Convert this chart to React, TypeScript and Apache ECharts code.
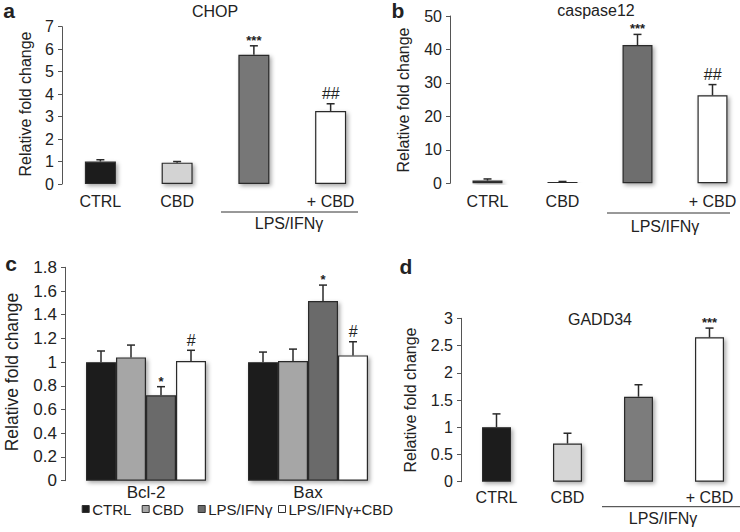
import React, { useEffect, useRef } from "react";
import * as echarts from "echarts";

// ---------- data ----------
const catsABD = ["CTRL", "CBD", "", "+ CBD"];

const chopMean = [1.0, 0.95, 5.75, 3.25];
const chopErr = [0.08, 0.05, 0.4, 0.32];
const chopMarks = ["", "", "***", "##"];
const chopTicks = { min: 0, max: 7, interval: 1 };

const casp12Mean = [0.8, 0.4, 41.3, 26.3];
const casp12Err = [0.5, 0.15, 3.2, 3.2];
const casp12Marks = ["", "", "***", "##"];
const casp12Ticks = { min: 0, max: 50, interval: 10 };

const gadd34Mean = [1.0, 0.7, 1.56, 2.65];
const gadd34Err = [0.245, 0.19, 0.22, 0.17];
const gadd34Marks = ["", "", "", "***"];
const gadd34Ticks = { min: 0, max: 3, interval: 0.5 };

const genesC = ["Bcl-2", "Bax"];
const groupsC = ["CTRL", "CBD", "LPS/IFNγ", "LPS/IFNγ+CBD"];
const cMean = [
  [1.0, 1.0],
  [1.04, 1.01],
  [0.72, 1.515],
  [1.01, 1.057],
];
const cErr = [
  [0.094, 0.085],
  [0.104, 0.1],
  [0.073, 0.135],
  [0.09, 0.115],
];
const cMarks = [
  ["", ""],
  ["", ""],
  ["*", "*"],
  ["#", "#"],
];
const cTicks = { min: 0, max: 1.8, interval: 0.2 };

const yTitle = "Relative fold change";
const groupLabel = "LPS/IFNγ";

const colorsA = ["#1c1c1c", "#d3d3d3", "#777777", "#ffffff"];
const colorsB = ["#1c1c1c", "#8a8a8a", "#6e6e6e", "#ffffff"];
const colorsC = ["#1c1c1c", "#a6a6a6", "#6b6b6b", "#ffffff"];
const colorsD = ["#1c1c1c", "#d6d6d6", "#7b7b7b", "#ffffff"];

const FONT = "Liberation Sans, Arial, sans-serif";
const TXT = "#222";

const barStyle = {
  borderColor: "#2a2a2a",
  borderWidth: 1.2,
  shadowColor: "rgba(0,0,0,0.35)",
  shadowBlur: 4,
  shadowOffsetX: 2,
  shadowOffsetY: 2,
};

function markFont(m: string) {
  if (m.indexOf("*") >= 0) return `bold 13px ${FONT}`;
  return `italic 16px ${FONT}`;
}

function makeErrRender(marks: string[], offsets: number[] | null) {
  return (params: any, api: any) => {
    const x = api.value(0);
    const m = api.value(1);
    const e = api.value(2);
    const s = api.value(3);
    const base = api.coord([x, m]);
    const top = api.coord([x, m + e]);
    const cx = base[0] + (offsets ? offsets[s] : 0);
    const children: any[] = [
      {
        type: "line",
        shape: { x1: cx, y1: base[1], x2: cx, y2: top[1] },
        style: { stroke: "#2a2a2a", lineWidth: 1.5 },
      },
      {
        type: "line",
        shape: { x1: cx - 4, y1: top[1], x2: cx + 4, y2: top[1] },
        style: { stroke: "#2a2a2a", lineWidth: 1.5 },
      },
    ];
    const mk = marks[params.dataIndex];
    if (mk) {
      const star = mk.indexOf("*") >= 0;
      children.push({
        type: "text",
        style: {
          text: mk,
          x: cx,
          y: star ? top[1] + 1 : top[1] - 2,
          align: "center",
          verticalAlign: "bottom",
          font: markFont(mk),
          fill: TXT,
        },
      });
    }
    return { type: "group", children };
  };
}

function yAxisOf(gridIndex: number, t: { min: number; max: number; interval: number }, fs: number) {
  return {
    type: "value",
    gridIndex,
    min: t.min,
    max: t.max,
    interval: t.interval,
    axisLine: { show: true, lineStyle: { color: "#555", width: 1 } },
    axisTick: { show: true, length: 4, lineStyle: { color: "#555" } },
    splitLine: { show: false },
    axisLabel: { fontSize: fs, color: TXT, fontFamily: FONT, margin: 8 },
  };
}

function xAxisOf(gridIndex: number, data: string[], margin: number, fs: number) {
  return {
    type: "category",
    gridIndex,
    data,
    axisLine: { show: false },
    axisTick: { show: false },
    axisLabel: { fontSize: fs, lineHeight: fs, color: TXT, fontFamily: FONT, margin, interval: 0 },
  };
}

function singleBar(idx: number, means: number[], colors: string[], width: number) {
  return {
    type: "bar",
    xAxisIndex: idx,
    yAxisIndex: idx,
    barWidth: width,
    data: means.map((v, i) => ({ value: v, itemStyle: { color: colors[i] } })),
    itemStyle: barStyle,
  };
}

function errSeries(idx: number, means: number[], errs: number[], marks: string[]) {
  return {
    type: "custom",
    xAxisIndex: idx,
    yAxisIndex: idx,
    z: 5,
    renderItem: makeErrRender(marks, null),
    data: means.map((v, i) => [i, v, errs[i], 0]),
  };
}

export default function App() {
  const ref = useRef<HTMLDivElement>(null);
  useEffect(() => {
    if (!ref.current) return;
    const chart = echarts.init(ref.current, null, { renderer: "svg", width: 740, height: 532 });

    const cBarWidth = 30;
    const cOffsets = groupsC.map((_, s) => (s - (groupsC.length - 1) / 2) * cBarWidth);
    const cErrData: number[][] = [];
    const cMarkFlat: string[] = [];
    groupsC.forEach((_, s) => {
      genesC.forEach((__, g) => {
        cErrData.push([g, cMean[s][g], cErr[s][g], s]);
        cMarkFlat.push(cMarks[s][g]);
      });
    });

    const lineStyle = { stroke: "#333", lineWidth: 1 };
    const txt = (text: string, x: number, y: number, font: string, rotation = 0) => ({
      type: "text",
      x,
      y,
      rotation,
      style: { text, x: 0, y: 0, align: "center", verticalAlign: "middle", font, fill: TXT },
    });

    const option: any = {
      animation: false,
      backgroundColor: "#ffffff",
      grid: [
        { left: 62, top: 26.7, width: 307, height: 157.3, containLabel: false, outerBoundsMode: "none" },
        { left: 450, top: 16, width: 300, height: 167.3, containLabel: false, outerBoundsMode: "none" },
        { left: 65, top: 267.3, width: 324, height: 213.4, containLabel: false, outerBoundsMode: "none" },
        { left: 461, top: 318.3, width: 284, height: 163.4, containLabel: false, outerBoundsMode: "none" },
      ],
      xAxis: [
        xAxisOf(0, catsABD, 9, 16),
        xAxisOf(1, catsABD, 10, 16),
        xAxisOf(2, genesC, 3.5, 17),
        xAxisOf(3, catsABD, 8, 16),
      ],
      yAxis: [
        yAxisOf(0, chopTicks, 16),
        yAxisOf(1, casp12Ticks, 16),
        yAxisOf(2, cTicks, 17),
        yAxisOf(3, gadd34Ticks, 16),
      ],
      legend: groupsC.map((name, s) => ({
        data: [name],
        left: [81.7, 141.7, 197.7, 278][s],
        top: 501.5,
        padding: 0,
        icon: "rect",
        itemWidth: 7,
        itemHeight: 7,
        itemGap: 4,
        selectedMode: false,
        textStyle: { fontSize: 15, lineHeight: 15, color: TXT, fontFamily: FONT, padding: [0, 0, 0, -2] },
        itemStyle: { borderColor: "#333", borderWidth: 1, shadowBlur: 0, shadowOffsetX: 0, shadowOffsetY: 0 },
      })),
      series: [
        singleBar(0, chopMean, colorsA, 31),
        errSeries(0, chopMean, chopErr, chopMarks),
        singleBar(1, casp12Mean, colorsB, 30),
        errSeries(1, casp12Mean, casp12Err, casp12Marks),
        ...groupsC.map((name, s) => ({
          type: "bar",
          name,
          xAxisIndex: 2,
          yAxisIndex: 2,
          barWidth: cBarWidth,
          barGap: "0%",
          data: cMean[s],
          itemStyle: { ...barStyle, color: colorsC[s] },
        })),
        {
          type: "custom",
          xAxisIndex: 2,
          yAxisIndex: 2,
          z: 5,
          renderItem: makeErrRender(cMarkFlat, cOffsets),
          data: cErrData,
        },
        singleBar(3, gadd34Mean, colorsD, 29),
        errSeries(3, gadd34Mean, gadd34Err, gadd34Marks),
      ],
      graphic: [
        txt("a", 9, 10.5, `bold 21px ${FONT}`),
        txt("b", 398, 10.5, `bold 21px ${FONT}`),
        txt("c", 11, 263, `bold 21px ${FONT}`),
        txt("d", 406, 266, `bold 21px ${FONT}`),
        txt("CHOP", 215, 11, `16px ${FONT}`),
        txt("caspase12", 596, 10, `16px ${FONT}`),
        txt("GADD34", 600, 319, `16px ${FONT}`),
        txt(yTitle, 25, 104, `16px ${FONT}`, Math.PI / 2),
        txt(yTitle, 403, 100, `16px ${FONT}`, Math.PI / 2),
        txt(yTitle, 12, 372, `17.5px ${FONT}`, Math.PI / 2),
        txt(yTitle, 410, 400, `16px ${FONT}`, Math.PI / 2),
        { type: "line", shape: { x1: 221, y1: 212, x2: 358, y2: 212 }, style: lineStyle },
        txt(groupLabel, 289, 223, `16px ${FONT}`),
        { type: "line", shape: { x1: 607, y1: 213, x2: 730, y2: 213 }, style: lineStyle },
        txt(groupLabel, 665, 226, `16px ${FONT}`),
        { type: "line", shape: { x1: 602, y1: 506.7, x2: 740, y2: 506.7 }, style: lineStyle },
        txt(groupLabel, 663, 518, `16px ${FONT}`),
      ],
    };
    chart.setOption(option);
    return () => chart.dispose();
  }, []);
  return (
    <div
      ref={ref}
      style={{ position: "fixed", left: 0, top: 0, width: 740, height: 532, background: "#fff" }}
    />
  );
}
